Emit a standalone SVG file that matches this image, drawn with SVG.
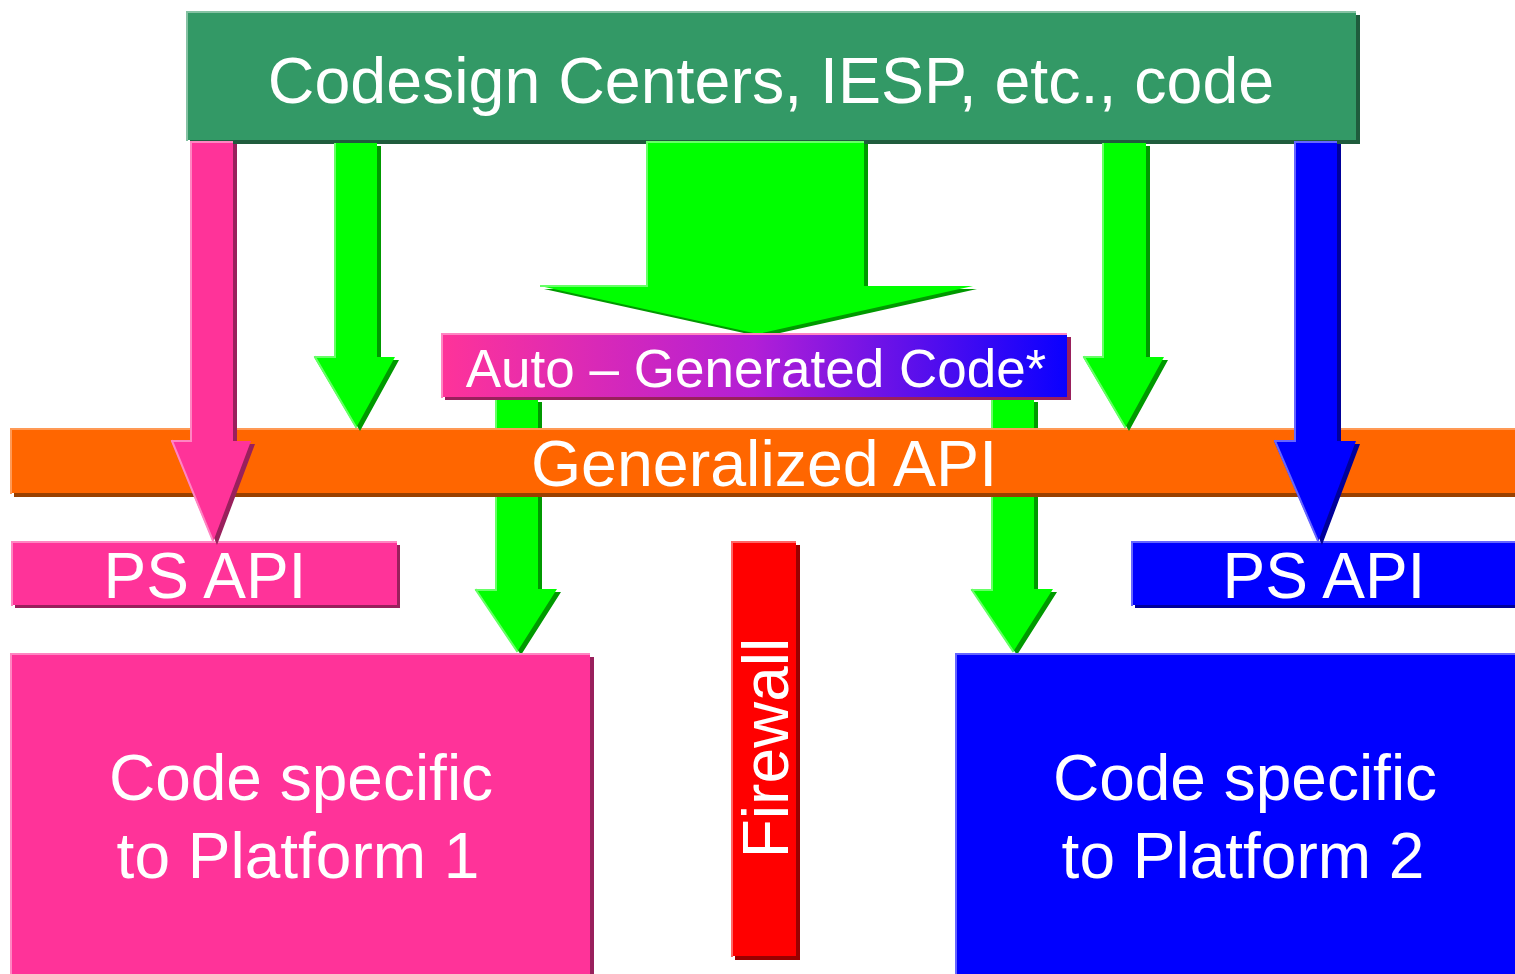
<svg xmlns="http://www.w3.org/2000/svg" width="1515" height="974" viewBox="0 0 1515 974">
  <defs>
    <linearGradient id="autoGrad" x1="0" y1="0" x2="1" y2="0">
      <stop offset="0" stop-color="#ff3399"/>
      <stop offset="0.5" stop-color="#b21fd6"/>
      <stop offset="1" stop-color="#0a00ff"/>
    </linearGradient>
    <style>
      .lbl { fill: #ffffff; font-family: "Liberation Sans", Arial, sans-serif; text-anchor: middle; }
      .hl { fill: none; stroke-width: 2; stroke-linecap: square; }
      .teal { fill: #339966; } .teal-sh { fill: #1f5c3d; } .teal-hl { stroke: #85c2a3; }
      .pink { fill: #ff3399; } .pink-sh { fill: #99205c; } .pink-hl { stroke: #ff85c2; }
      .lime { fill: #00ff00; } .lime-sh { fill: #009900; } .lime-hl { stroke: #66ff66; }
      .blue { fill: #0000ff; } .blue-sh { fill: #000099; } .blue-hl { stroke: #6666ff; }
      .orng { fill: #ff6600; } .orng-sh { fill: #994000; } .orng-hl { stroke: #ff9955; }
      .red { fill: #ff0000; } .red-sh { fill: #990000; } .red-hl { stroke: #ff6666; }
    </style>
  </defs>

  <rect width="1515" height="974" fill="#ffffff"/>

  <!-- source box -->
  <g id="codesign">
    <rect class="teal-sh" x="190" y="15" width="1170" height="129"/>
    <rect class="teal" x="186" y="11" width="1170" height="129"/>
    <path class="hl teal-hl" d="M187 140 V12 H1355"/>
    <text class="lbl" x="771" y="103" font-size="64.5">Codesign Centers, IESP, etc., code</text>
  </g>

  <!-- lower arrows run behind the API bar -->
  <g id="connectors-lower">
    <g id="arrow-auto-p1">
      <path class="lime-sh" transform="translate(4,3)" d="M495 399 H538 V589 H557 L517 652 L475 589 H495 Z"/>
      <path class="lime" d="M495 399 H538 V589 H557 L517 652 L475 589 H495 Z"/>
      <path class="hl lime-hl" d="M496 399 V590 M476 590 H495 M476 590 L517 651"/>
    </g>
    <g id="arrow-auto-p2">
      <path class="lime-sh" transform="translate(4,3)" d="M991 399 H1034 V589 H1053 L1013 652 L971 589 H991 Z"/>
      <path class="lime" d="M991 399 H1034 V589 H1053 L1013 652 L971 589 H991 Z"/>
      <path class="hl lime-hl" d="M992 399 V590 M972 590 H991 M972 590 L1013 651"/>
    </g>
    <g id="arrow-big">
      <path class="lime-sh" transform="translate(4,3)" d="M646 141 H864 V286 H973 L758 334 L540 286 H646 Z"/>
      <path class="lime" d="M646 141 H864 V286 H973 L758 334 L540 286 H646 Z"/>
      <path class="hl lime-hl" d="M647 286 V142 H863 M541 286 H646"/>
    </g>
  </g>

  <!-- generated code box -->
  <g id="auto-generated">
    <rect class="pink-sh" x="445" y="337" width="626" height="63"/>
    <rect fill="url(#autoGrad)" x="441" y="333" width="626" height="64"/>
    <path class="hl pink-hl" d="M442 397 V334 H1066"/>
    <text class="lbl" x="756" y="387" font-size="53">Auto – Generated Code*</text>
  </g>

  <!-- API bar -->
  <g id="generalized-api">
    <rect class="orng-sh" x="14" y="432" width="1505" height="65"/>
    <rect class="orng" x="10" y="428" width="1510" height="65"/>
    <path class="hl orng-hl" d="M11 493 V429 H1515"/>
    <text class="lbl" x="764" y="486" font-size="64.5">Generalized API</text>
  </g>

  <!-- platform-specific API boxes -->
  <g id="ps-api-1">
    <rect class="pink-sh" x="15" y="545" width="385" height="63"/>
    <rect class="pink" x="11" y="541" width="386" height="64"/>
    <path class="hl pink-hl" d="M12 605 V542 H396"/>
    <text class="lbl" x="205" y="598" font-size="64">PS API</text>
  </g>
  <g id="ps-api-2">
    <rect class="blue-sh" x="1135" y="545" width="385" height="63"/>
    <rect class="blue" x="1131" y="541" width="390" height="64"/>
    <path class="hl blue-hl" d="M1132 605 V542 H1515"/>
    <text class="lbl" x="1324" y="598" font-size="64">PS API</text>
  </g>

  <!-- firewall -->
  <g id="firewall">
    <rect class="red-sh" x="735" y="545" width="65" height="415"/>
    <rect class="red" x="731" y="541" width="65" height="415"/>
    <path class="hl red-hl" d="M732 956 V542 H795"/>
    <text class="lbl" transform="translate(788,748) rotate(-90)" font-size="64">Firewall</text>
  </g>

  <!-- platform code boxes -->
  <g id="platform-1">
    <rect class="pink-sh" x="14" y="657" width="580" height="330"/>
    <rect class="pink" x="10" y="653" width="580" height="330"/>
    <path class="hl pink-hl" d="M11 980 V654 H589"/>
    <text class="lbl" x="301" y="800" font-size="64">Code specific</text>
    <text class="lbl" x="298" y="878" font-size="64">to Platform 1</text>
  </g>
  <g id="platform-2">
    <rect class="blue-sh" x="959" y="657" width="570" height="330"/>
    <rect class="blue" x="955" y="653" width="570" height="330"/>
    <path class="hl blue-hl" d="M956 980 V654 H1515"/>
    <text class="lbl" x="1245" y="800" font-size="64">Code specific</text>
    <text class="lbl" x="1243" y="878" font-size="64">to Platform 2</text>
  </g>

  <!-- arrows drawn over the API bar -->
  <g id="connectors">
    <g id="arrow-ps1">
      <path class="pink-sh" transform="translate(4,3)" d="M190 141 H233 V441 H251 L213 542 L171 441 H190 Z"/>
      <path class="pink" d="M190 141 H233 V441 H251 L213 542 L171 441 H190 Z"/>
      <path class="hl pink-hl" d="M191 441 V142 H232 M172 441 H190 M172 441 L213 541"/>
    </g>
    <g id="arrow-api-left">
      <path class="lime-sh" transform="translate(4,3)" d="M334 143 H377 V357 H395 L356 428 L314 357 H334 Z"/>
      <path class="lime" d="M334 143 H377 V357 H395 L356 428 L314 357 H334 Z"/>
      <path class="hl lime-hl" d="M335 357 V144 M315 357 H334 M315 357 L356 427"/>
    </g>
    <g id="arrow-api-right">
      <path class="lime-sh" transform="translate(4,3)" d="M1102 143 H1146 V357 H1164 L1125 428 L1083 357 H1102 Z"/>
      <path class="lime" d="M1102 143 H1146 V357 H1164 L1125 428 L1083 357 H1102 Z"/>
      <path class="hl lime-hl" d="M1103 357 V144 M1084 357 H1102 M1084 357 L1125 427"/>
    </g>
    <g id="arrow-ps2">
      <path class="blue-sh" transform="translate(4,3)" d="M1294 141 H1337 V441 H1356 L1318 542 L1274 441 H1294 Z"/>
      <path class="blue" d="M1294 141 H1337 V441 H1356 L1318 542 L1274 441 H1294 Z"/>
      <path class="hl blue-hl" d="M1295 441 V142 H1336 M1275 441 H1294 M1275 441 L1318 541"/>
    </g>
  </g>
</svg>
